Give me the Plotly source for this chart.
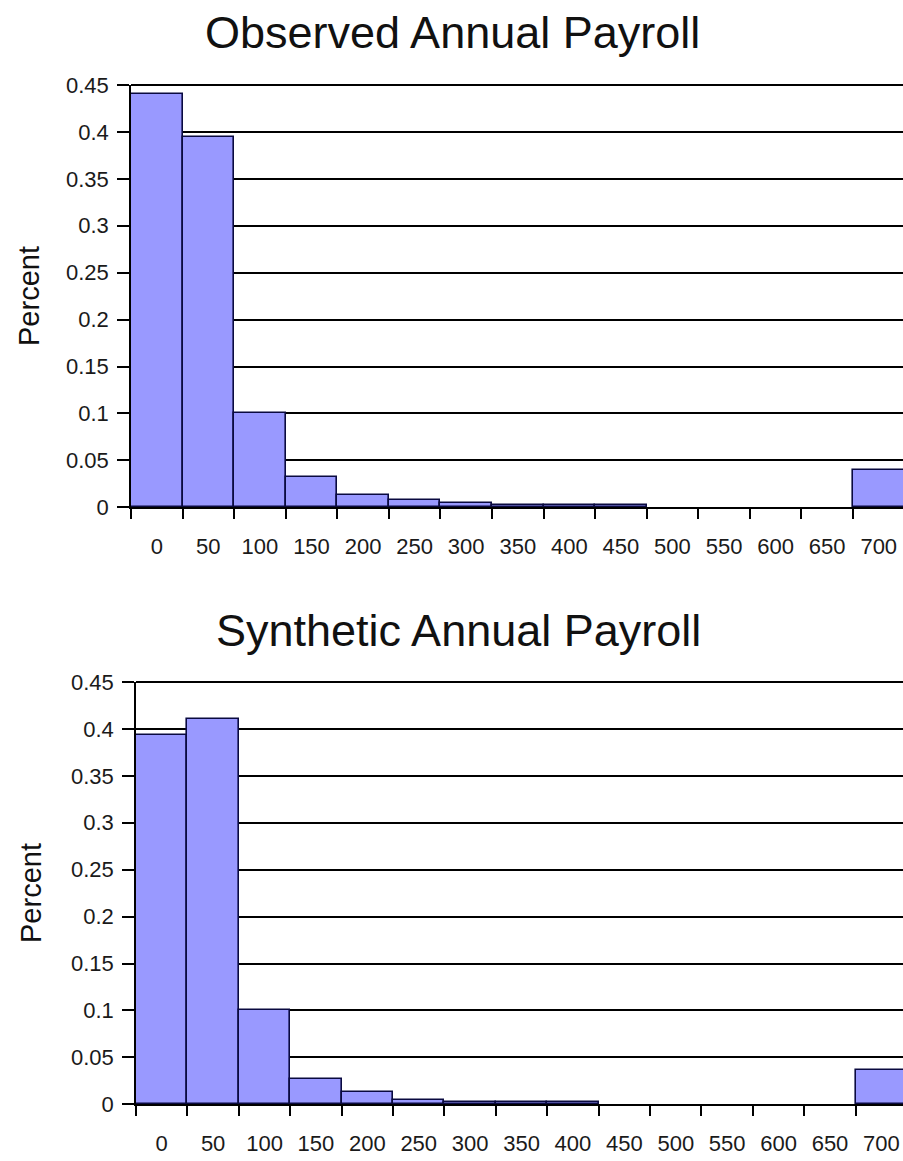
import plotly.graph_objects as go

# Payroll bins (thousands), shared by both histograms
bins = ["0", "50", "100", "150", "200", "250", "300", "350", "400", "450",
        "500", "550", "600", "650", "700"]

observed = [0.44, 0.395, 0.1, 0.032, 0.013, 0.0075, 0.005, 0.002, 0.002, 0.002,
            0, 0, 0, 0, 0.04]
synthetic = [0.394, 0.411, 0.1, 0.027, 0.0135, 0.005, 0.002, 0.002, 0.002, 0,
             0, 0, 0, 0, 0.037]

y_ticks = [0, 0.05, 0.1, 0.15, 0.2, 0.25, 0.3, 0.35, 0.4, 0.45]
y_tick_text = ["0", "0.05", "0.1", "0.15", "0.2", "0.25", "0.3", "0.35", "0.4", "0.45"]

titles = ["Observed Annual Payroll", "Synthetic Annual Payroll"]

W, H = 903, 1161
FONT = "Liberation Sans, Arial, sans-serif"
BAR_FILL = "#9999ff"
BAR_EDGE = "#0a0a40"
LINE_W = 1.6

# plot-area edges in pixels: (left, top, bottom) for each panel
PANELS = [(131, 85, 507.3), (136, 682, 1104.3)]


def px_x(p):
    return p / W


def px_y(p):
    return 1 - p / H


def bar_trace(values, xa, ya):
    # empty bins get no outline so only the axis line shows there
    edge_widths = [LINE_W if v > 0 else 0 for v in values]
    return go.Bar(x=bins, y=values, xaxis=xa, yaxis=ya,
                  marker=dict(color=BAR_FILL,
                              line=dict(color=BAR_EDGE, width=edge_widths)),
                  showlegend=False, hoverinfo="x+y")


fig = go.Figure()
fig.add_trace(bar_trace(observed, "x", "y"))
fig.add_trace(bar_trace(synthetic, "x2", "y2"))


def x_axis(domain, rng, anchor):
    return dict(type="category", domain=domain, range=rng, anchor=anchor,
                automargin=False,
                tickson="boundaries", ticks="outside", ticklen=10, tickwidth=LINE_W,
                tickcolor="black", showline=True, linecolor="black", linewidth=LINE_W,
                showgrid=False, ticklabelstandoff=18,
                tickfont=dict(family=FONT, size=22, color="#1a1a1a"),
                fixedrange=True)


def y_axis(domain, anchor):
    return dict(domain=domain, range=[0, 0.45], anchor=anchor,
                automargin=False,
                tickvals=y_ticks, ticktext=y_tick_text,
                ticks="outside", ticklen=12, tickwidth=LINE_W, tickcolor="black",
                showline=True, linecolor="black", linewidth=LINE_W,
                showgrid=True, gridcolor="black", gridwidth=LINE_W,
                zeroline=False, ticklabelstandoff=4,
                tickfont=dict(family=FONT, size=22, color="#1a1a1a"),
                fixedrange=True)


(l1, t1, b1), (l2, t2, b2) = PANELS
fig.update_layout(
    width=W, height=H,
    margin=dict(l=0, r=0, t=0, b=0, autoexpand=False),
    paper_bgcolor="white", plot_bgcolor="white",
    bargap=0,
    xaxis=x_axis([px_x(l1), 1], [-0.5, 14.47], "y"),
    yaxis=y_axis([px_y(b1), px_y(t1)], "x"),
    xaxis2=x_axis([px_x(l2), 1], [-0.5, 14.42], "y2"),
    yaxis2=y_axis([px_y(b2), px_y(t2)], "x2"),
)

# gridline along the top edge of each panel (the axis skips the edge gridline)
for left, top, _ in PANELS:
    fig.add_shape(type="line", xref="paper", yref="paper",
                  x0=px_x(left), x1=1, y0=px_y(top), y1=px_y(top),
                  line=dict(color="black", width=2))

annotations = [
    dict(text=titles[0], x=px_x(453), y=px_y(32), xanchor="center", yanchor="middle",
         font=dict(family=FONT, size=45, color="#111")),
    dict(text=titles[1], x=px_x(458), y=px_y(630), xanchor="center", yanchor="middle",
         font=dict(family=FONT, size=45, color="#111")),
    dict(text="Percent", x=px_x(29), y=px_y(296), xanchor="center", yanchor="middle",
         textangle=-90, font=dict(family=FONT, size=29, color="#111")),
    dict(text="Percent", x=px_x(31), y=px_y(893), xanchor="center", yanchor="middle",
         textangle=-90, font=dict(family=FONT, size=29, color="#111")),
]
for a in annotations:
    a.update(xref="paper", yref="paper", showarrow=False)
fig.update_layout(annotations=annotations)

fig.write_html("out.html")
